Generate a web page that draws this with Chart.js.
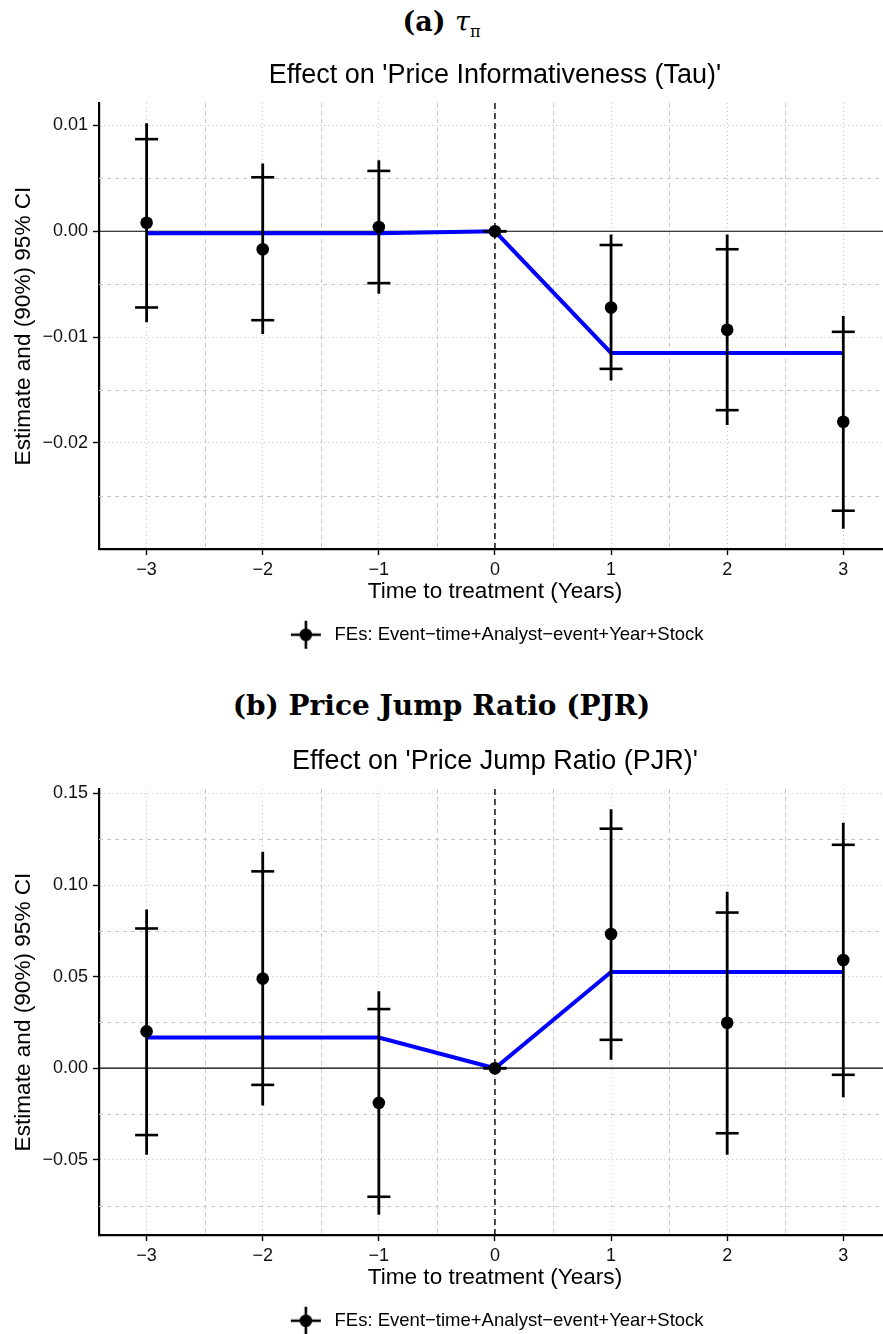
<!DOCTYPE html>
<html>
<head>
<meta charset="utf-8">
<script src="https://cdn.jsdelivr.net/npm/chart.js@4.4.0/dist/chart.umd.min.js"></script>
<style>
  html, body { margin: 0; padding: 0; background: #fff; overflow: hidden; }
  body { width: 883px; height: 1334px; position: relative; }
  .head { position: absolute; left: 0; width: 883px; text-align: center; line-height: 1;
          font-family: "DejaVu Serif", "Liberation Serif", serif; font-weight: bold; color: #000; }
  .head i { font-weight: normal; }
  .head sub { font-weight: normal; font-size: 60%; }
  canvas { position: absolute; left: 0; }
</style>
</head>
<body>
<div class="head" style="top:8px; font-size:27px;">(a) <i>τ</i><sub>π</sub></div>
<canvas id="chartA" width="905" height="614" style="top:40px"></canvas>
<div class="head" style="top:692px; font-size:28px;">(b) Price Jump Ratio (PJR)</div>
<canvas id="chartB" width="905" height="614" style="top:726px"></canvas>
<script>
// event time (years relative to treatment)
const years = [-3, -2, -1, 0, 1, 2, 3];
const xTicks = [-3, -2, -1, 0, 1, 2, 3];
const xTickLabels = ['−3', '−2', '−1', '0', '1', '2', '3'];
const xMinor = [-2.5, -1.5, -0.5, 0.5, 1.5, 2.5];
const capHalfWidth = 0.1;

// (a) Price informativeness (Tau)
const estA  = [0.0008, -0.0017, 0.0004, 0, -0.0072, -0.0093, -0.0180];
const lo90A = [-0.0072, -0.0084, -0.0049, 0, -0.0130, -0.0169, -0.0264];
const hi90A = [0.0087, 0.0051, 0.0057, 0, -0.0013, -0.0017, -0.0095];
const lo95A = [-0.0086, -0.0097, -0.0059, 0, -0.0141, -0.0183, -0.0281];
const hi95A = [0.0102, 0.0064, 0.0067, 0, -0.0003, -0.0003, -0.0080];
const fitA  = [-0.0002, -0.0002, -0.0002, 0, -0.0115, -0.0115, -0.0115];
const yTicksA = [-0.02, -0.01, 0, 0.01];
const yTickLabelsA = ['−0.02', '−0.01', '0.00', '0.01'];
const yMinorA = [-0.025, -0.015, -0.005, 0.005];

// (b) Price jump ratio (PJR)
const estB  = [0.0201, 0.0489, -0.0189, 0, 0.0733, 0.0248, 0.0591];
const lo90B = [-0.0365, -0.0091, -0.0702, 0, 0.0155, -0.0355, -0.0036];
const hi90B = [0.0763, 0.1075, 0.0323, 0, 0.1308, 0.0850, 0.1220];
const lo95B = [-0.0472, -0.0204, -0.0800, 0, 0.0046, -0.0472, -0.0159];
const hi95B = [0.0867, 0.1182, 0.0420, 0, 0.1414, 0.0963, 0.1340];
const fitB  = [0.0168, 0.0168, 0.0168, 0, 0.0525, 0.0525, 0.0525];
const yTicksB = [-0.05, 0, 0.05, 0.10, 0.15];
const yTickLabelsB = ['−0.05', '0.00', '0.05', '0.10', '0.15'];
const yMinorB = [-0.075, -0.025, 0.025, 0.075, 0.125];

const legendText = 'FEs: Event−time+Analyst−event+Year+Stock';
const FONT = '"Liberation Sans", Arial, Helvetica, sans-serif';

// legend key: point with error bar
const key = document.createElement('canvas');
key.width = 32; key.height = 30;
(function () {
    const k = key.getContext('2d');
    k.strokeStyle = '#000';
    k.lineWidth = 2.6;
    k.beginPath();
    k.moveTo(16, 1); k.lineTo(16, 29);
    k.moveTo(1, 15); k.lineTo(31, 15);
    k.stroke();
    k.beginPath();
    k.arc(16, 15, 6.3, 0, 2 * Math.PI);
    k.fill();
})();

const guideLines = {
    id: 'guideLines',
    beforeDatasetsDraw(chart, args, opts) {
        const {ctx, chartArea: a, scales: {x, y}} = chart;
        ctx.save();
        ctx.beginPath();
        ctx.rect(a.left, a.top, a.right - a.left, a.bottom - a.top);
        ctx.clip();
        ctx.strokeStyle = '#c6c6c6';
        ctx.lineWidth = 1;
        ctx.setLineDash([4, 4]);
        opts.xMinor.forEach(v => {
            const px = Math.round(x.getPixelForValue(v)) + 0.5;
            ctx.beginPath(); ctx.moveTo(px, a.top); ctx.lineTo(px, a.bottom); ctx.stroke();
        });
        opts.yMinor.forEach(v => {
            const py = Math.round(y.getPixelForValue(v)) + 0.5;
            ctx.beginPath(); ctx.moveTo(a.left, py); ctx.lineTo(a.right, py); ctx.stroke();
        });
        // zero line
        ctx.setLineDash([]);
        ctx.strokeStyle = '#000';
        ctx.lineWidth = 1.2;
        const y0 = y.getPixelForValue(0);
        ctx.beginPath(); ctx.moveTo(a.left, y0); ctx.lineTo(a.right, y0); ctx.stroke();
        // treatment
        ctx.setLineDash([6, 4]);
        ctx.lineWidth = 1.4;
        const x0 = x.getPixelForValue(0);
        ctx.beginPath(); ctx.moveTo(x0, a.top); ctx.lineTo(x0, a.bottom); ctx.stroke();
        ctx.restore();
    }
};

function expand(lo, hi) {
    const s = hi - lo;
    return [lo - s * 0.05, hi + s * 0.05];
}

function buildChart(id, title, est, lo90, hi90, lo95, hi95, fit, yTicks, yTickLabels, yMinor) {
    const xr = expand(Math.min(...years) - capHalfWidth, Math.max(...years) + capHalfWidth);
    const yr = expand(Math.min(...lo95), Math.max(...hi95));

    const points = years.map((x, i) => ({x: x, y: est[i]}));
    const caps = years.flatMap((x, i) => [{x: x, y: lo90[i]}, {x: x, y: hi90[i]}]);
    const whiskers = years.flatMap((x, i) => [{x: x, y: lo95[i]}, {x: x, y: hi95[i]}, {x: x, y: null}]);
    const fitted = years.map((x, i) => ({x: x, y: fit[i]}));

    const labelOf = (ticks, labels) => v => {
        const i = ticks.findIndex(t => Math.abs(t - v) < 1e-9);
        return i < 0 ? '' : labels[i];
    };

    return new Chart(document.getElementById(id), {
        type: 'line',
        data: {
            datasets: [
                {label: legendText, data: points, showLine: false, pointRadius: 6.3, pointHoverRadius: 6.3,
                 pointBackgroundColor: '#000', pointBorderWidth: 0},
                {label: 'ci90', data: caps, showLine: false, pointStyle: 'line', pointRadius: 11.5,
                 pointHoverRadius: 11.5, pointBorderColor: '#000', pointBorderWidth: 2.6},
                {label: 'ci95', data: whiskers, spanGaps: false, borderColor: '#000', borderWidth: 2.8,
                 pointRadius: 0, pointHoverRadius: 0},
                {label: 'fit', data: fitted, borderColor: '#0000ff', borderWidth: 4, pointRadius: 0,
                 pointHoverRadius: 0, tension: 0}
            ]
        },
        options: {
            responsive: false,
            animation: false,
            events: [],
            layout: {padding: 0},
            plugins: {
                title: {
                    display: true, text: title, fullSize: false, color: '#000',
                    font: {family: FONT, size: 27, weight: 'normal', lineHeight: 1.2},
                    padding: {top: 19.5, bottom: 11.1}
                },
                legend: {
                    position: 'bottom', fullSize: false,
                    labels: {
                        usePointStyle: true, pointStyleWidth: 39, padding: 10, color: '#000',
                        font: {family: FONT, size: 18.5},
                        generateLabels: () => [{text: legendText, pointStyle: key, fillStyle: '#000',
                            strokeStyle: '#000', lineWidth: 0, hidden: false, datasetIndex: 0, fontColor: '#000'}]
                    }
                },
                tooltip: {enabled: false},
                guideLines: {xMinor: xMinor, yMinor: yMinor}
            },
            scales: {
                x: {
                    type: 'linear', min: xr[0], max: xr[1],
                    afterBuildTicks: s => { s.ticks = xTicks.map(v => ({value: v})); },
                    afterFit: s => { s.height = 66.5; },
                    ticks: {callback: labelOf(xTicks, xTickLabels), autoSkip: false, maxRotation: 0,
                            font: {family: FONT, size: 18}, color: '#111', padding: 4},
                    grid: {color: '#c6c6c6', lineWidth: 1, tickColor: '#000', tickLength: 6, tickWidth: 1.4},
                    border: {display: true, color: '#000', width: 2.2, dash: [1, 3]},
                    title: {display: true, text: 'Time to treatment (Years)', color: '#000',
                            font: {family: FONT, size: 22.6, lineHeight: 1.2}, padding: {top: 0, bottom: 10}}
                },
                y: {
                    type: 'linear', min: yr[0], max: yr[1],
                    afterBuildTicks: s => { s.ticks = yTicks.map(v => ({value: v})); },
                    afterFit: s => { s.width = 99; },
                    ticks: {callback: labelOf(yTicks, yTickLabels), font: {family: FONT, size: 18},
                            color: '#111', padding: 5},
                    grid: {color: '#c6c6c6', lineWidth: 1, tickColor: '#000', tickLength: 6, tickWidth: 1.4},
                    border: {display: true, color: '#000', width: 2.2, dash: [1, 3]},
                    title: {display: true, text: 'Estimate and (90%) 95% CI', color: '#000',
                            font: {family: FONT, size: 22.6, lineHeight: 1.2}, padding: {top: 10.5, bottom: 0}}
                }
            }
        },
        plugins: [guideLines]
    });
}

buildChart('chartA', "Effect on 'Price Informativeness (Tau)'",
    estA, lo90A, hi90A, lo95A, hi95A, fitA, yTicksA, yTickLabelsA, yMinorA);
buildChart('chartB', "Effect on 'Price Jump Ratio (PJR)'",
    estB, lo90B, hi90B, lo95B, hi95B, fitB, yTicksB, yTickLabelsB, yMinorB);
</script>
</body>
</html>
